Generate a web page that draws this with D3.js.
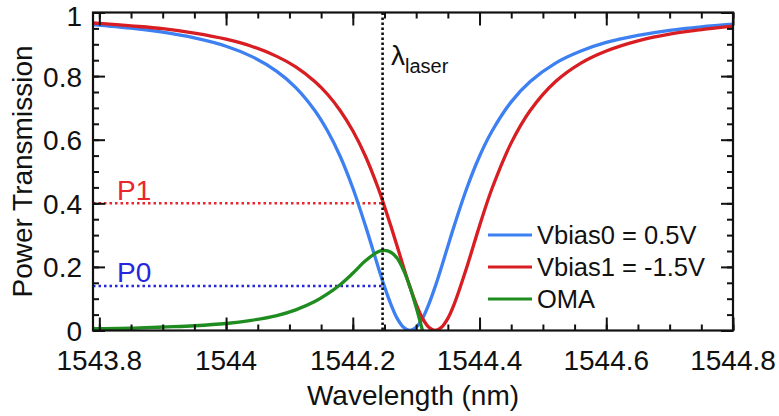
<!DOCTYPE html>
<html><head><meta charset="utf-8">
<script src="https://cdn.jsdelivr.net/npm/d3@7"></script>
<style>
body{margin:0;background:#fff;}
text{font-family:"Liberation Sans",Arial,Helvetica,sans-serif;}
</style></head>
<body><svg id="c" width="779" height="416"></svg>
<script>
// Wavelength samples (nm)
const wavelength = [1543.79,1543.80,1543.85,1543.90,1543.95,1544.00,1544.04,1544.08,1544.11,1544.14,1544.16,1544.18,1544.20,1544.22,1544.24,1544.25,1544.26,1544.27,1544.28,1544.29,1544.30,1544.31,1544.32,1544.33,1544.34,1544.35,1544.36,1544.38,1544.40,1544.42,1544.45,1544.48,1544.52,1544.56,1544.60,1544.65,1544.70,1544.75,1544.80];
// Vbias0 = 0.5V transmission
const vbias0 = [0.962,0.960,0.951,0.938,0.920,0.894,0.862,0.815,0.764,0.692,0.628,0.548,0.448,0.329,0.200,0.138,0.083,0.038,0.010,0.000,0.010,0.038,0.083,0.138,0.200,0.265,0.329,0.448,0.548,0.628,0.719,0.783,0.841,0.879,0.906,0.928,0.944,0.955,0.963];
// Vbias1 = -1.5V transmission
const vbias1 = [0.967,0.966,0.958,0.949,0.935,0.916,0.894,0.862,0.829,0.783,0.743,0.692,0.628,0.548,0.448,0.390,0.329,0.265,0.200,0.138,0.083,0.038,0.010,0.000,0.010,0.038,0.083,0.200,0.329,0.448,0.590,0.692,0.783,0.841,0.879,0.911,0.932,0.946,0.957];
// OMA (null where not drawn)
const oma = [0.006,0.006,0.007,0.011,0.015,0.022,0.032,0.047,0.065,0.091,0.115,0.144,0.180,0.219,0.248,0.252,0.246,0.227,0.190,0.138,0.073,0.000,null,null,null,null,null,null,null,null,null,null,null,null,null,null,null,null,null];
const xTicks = [1543.8,1544,1544.2,1544.4,1544.6,1544.8];
const xTickLabels = ["1543.8","1544","1544.2","1544.4","1544.6","1544.8"];
const yTicks = [0,0.2,0.4,0.6,0.8,1];
const yTickLabels = ["0","0.2","0.4","0.6","0.8","1"];
const laser = 1544.247;
const P1 = 0.40;
const P0 = 0.14;
const seriesNames = ["Vbias0 = 0.5V","Vbias1 = -1.5V","OMA"];
const seriesColors = ["#3d80f2","#d81e22","#1e8c1e"];

const svg = d3.select("#c");
const L=93, R=733, T=12.5, B=330.5;
const x = d3.scaleLinear().domain([1543.79,1544.8]).range([L,R]);
const y = d3.scaleLinear().domain([0,1]).range([B,T]);

const g = svg.append("g");
svg.append("defs").append("clipPath").attr("id","clip").append("rect")
  .attr("x",L).attr("y",T-2).attr("width",R-L).attr("height",B-T+2);

// dotted reference lines
g.append("line").attr("x1",x(1543.79)).attr("x2",x(laser)).attr("y1",y(P1)).attr("y2",y(P1))
  .attr("stroke","#e8262b").attr("stroke-width",2.5).attr("stroke-dasharray","2.5,3");
g.append("line").attr("x1",x(1543.79)).attr("x2",x(laser)).attr("y1",y(P0)).attr("y2",y(P0))
  .attr("stroke","#2626dc").attr("stroke-width",2.5).attr("stroke-dasharray","2.5,3");

const data = [vbias0, vbias1, oma];
const line = d3.line().defined(d=>d[1]!==null).x(d=>x(d[0])).y(d=>y(d[1])).curve(d3.curveCatmullRom.alpha(0.5));
data.forEach((arr,i)=>{
  g.append("path").attr("clip-path","url(#clip)")
   .datum(wavelength.map((w,j)=>[w,arr[j]]))
   .attr("d",line).attr("fill","none").attr("stroke",seriesColors[i]).attr("stroke-width",3.3)
   .attr("stroke-linejoin","round");
});

g.append("line").attr("x1",x(laser)).attr("x2",x(laser)).attr("y1",T).attr("y2",B)
  .attr("stroke","#111").attr("stroke-width",2.6).attr("stroke-dasharray","2.5,2.5");

// axes with inward ticks (major and minor)
const minorX = d3.range(1543.8,1544.8001,0.05).map(v=>+v.toFixed(2));
const minorY = d3.range(0,1.0001,0.05).map(v=>+v.toFixed(2));
function axis(gen, scale, ticks, len, transform){
  const a = svg.append("g").attr("transform",transform).call(gen(scale).tickValues(ticks).tickSize(len).tickFormat(""));
  a.select(".domain").remove();
  a.selectAll("line").attr("stroke","#111").attr("stroke-width",2);
  return a;
}
axis(d3.axisTop, x, minorX, 6, `translate(0,${B})`);
axis(d3.axisTop, x, xTicks, 13, `translate(0,${B})`);
axis(d3.axisBottom, x, minorX, 6, `translate(0,${T})`);
axis(d3.axisBottom, x, xTicks, 13, `translate(0,${T})`);
axis(d3.axisRight, y, minorY, 6, `translate(${L},0)`);
axis(d3.axisRight, y, yTicks, 12, `translate(${L},0)`);
axis(d3.axisLeft, y, minorY, 6, `translate(${R},0)`);
axis(d3.axisLeft, y, yTicks, 12, `translate(${R},0)`);

// frame
svg.append("rect").attr("x",L).attr("y",T).attr("width",R-L).attr("height",B-T)
  .attr("fill","none").attr("stroke","#111").attr("stroke-width",2.2);

// tick labels
xTicks.forEach((v,i)=>{
  svg.append("text").attr("x",x(v)).attr("y",370).attr("text-anchor","middle")
    .attr("font-size",28).attr("fill","#111").text(xTickLabels[i]);
});
yTicks.forEach((v,i)=>{
  svg.append("text").attr("x",82).attr("y",Math.max(y(v)+10.5, 26)).attr("text-anchor","end")
    .attr("font-size",28).attr("fill","#111").text(yTickLabels[i]);
});

// axis titles
svg.append("text").attr("x",(L+R)/2).attr("y",405).attr("text-anchor","middle")
  .attr("font-size",28).attr("fill","#111").text("Wavelength (nm)");
svg.append("text").attr("transform",`translate(32,${(T+B)/2}) rotate(-90)`).attr("text-anchor","middle")
  .attr("font-size",28).attr("fill","#111").text("Power Transmission");

// annotations
svg.append("text").attr("x",117).attr("y",200).attr("font-size",28).attr("fill","#e8262b").text("P1");
svg.append("text").attr("x",117).attr("y",282).attr("font-size",28).attr("fill","#2626dc").text("P0");
const lt = svg.append("text").attr("x",391).attr("y",65).attr("fill","#111");
lt.append("tspan").attr("font-size",28).text("λ");
lt.append("tspan").attr("font-size",20).attr("dy",8).text("laser");

// legend
seriesNames.forEach((n,i)=>{
  const yy = 235 + i*32;
  svg.append("line").attr("x1",488).attr("x2",532).attr("y1",yy).attr("y2",yy)
    .attr("stroke",seriesColors[i]).attr("stroke-width",3.2);
  svg.append("text").attr("x",537).attr("y",yy).attr("dy","0.36em").attr("font-size",25.5)
    .attr("fill","#111").text(n);
});
</script></body></html>
